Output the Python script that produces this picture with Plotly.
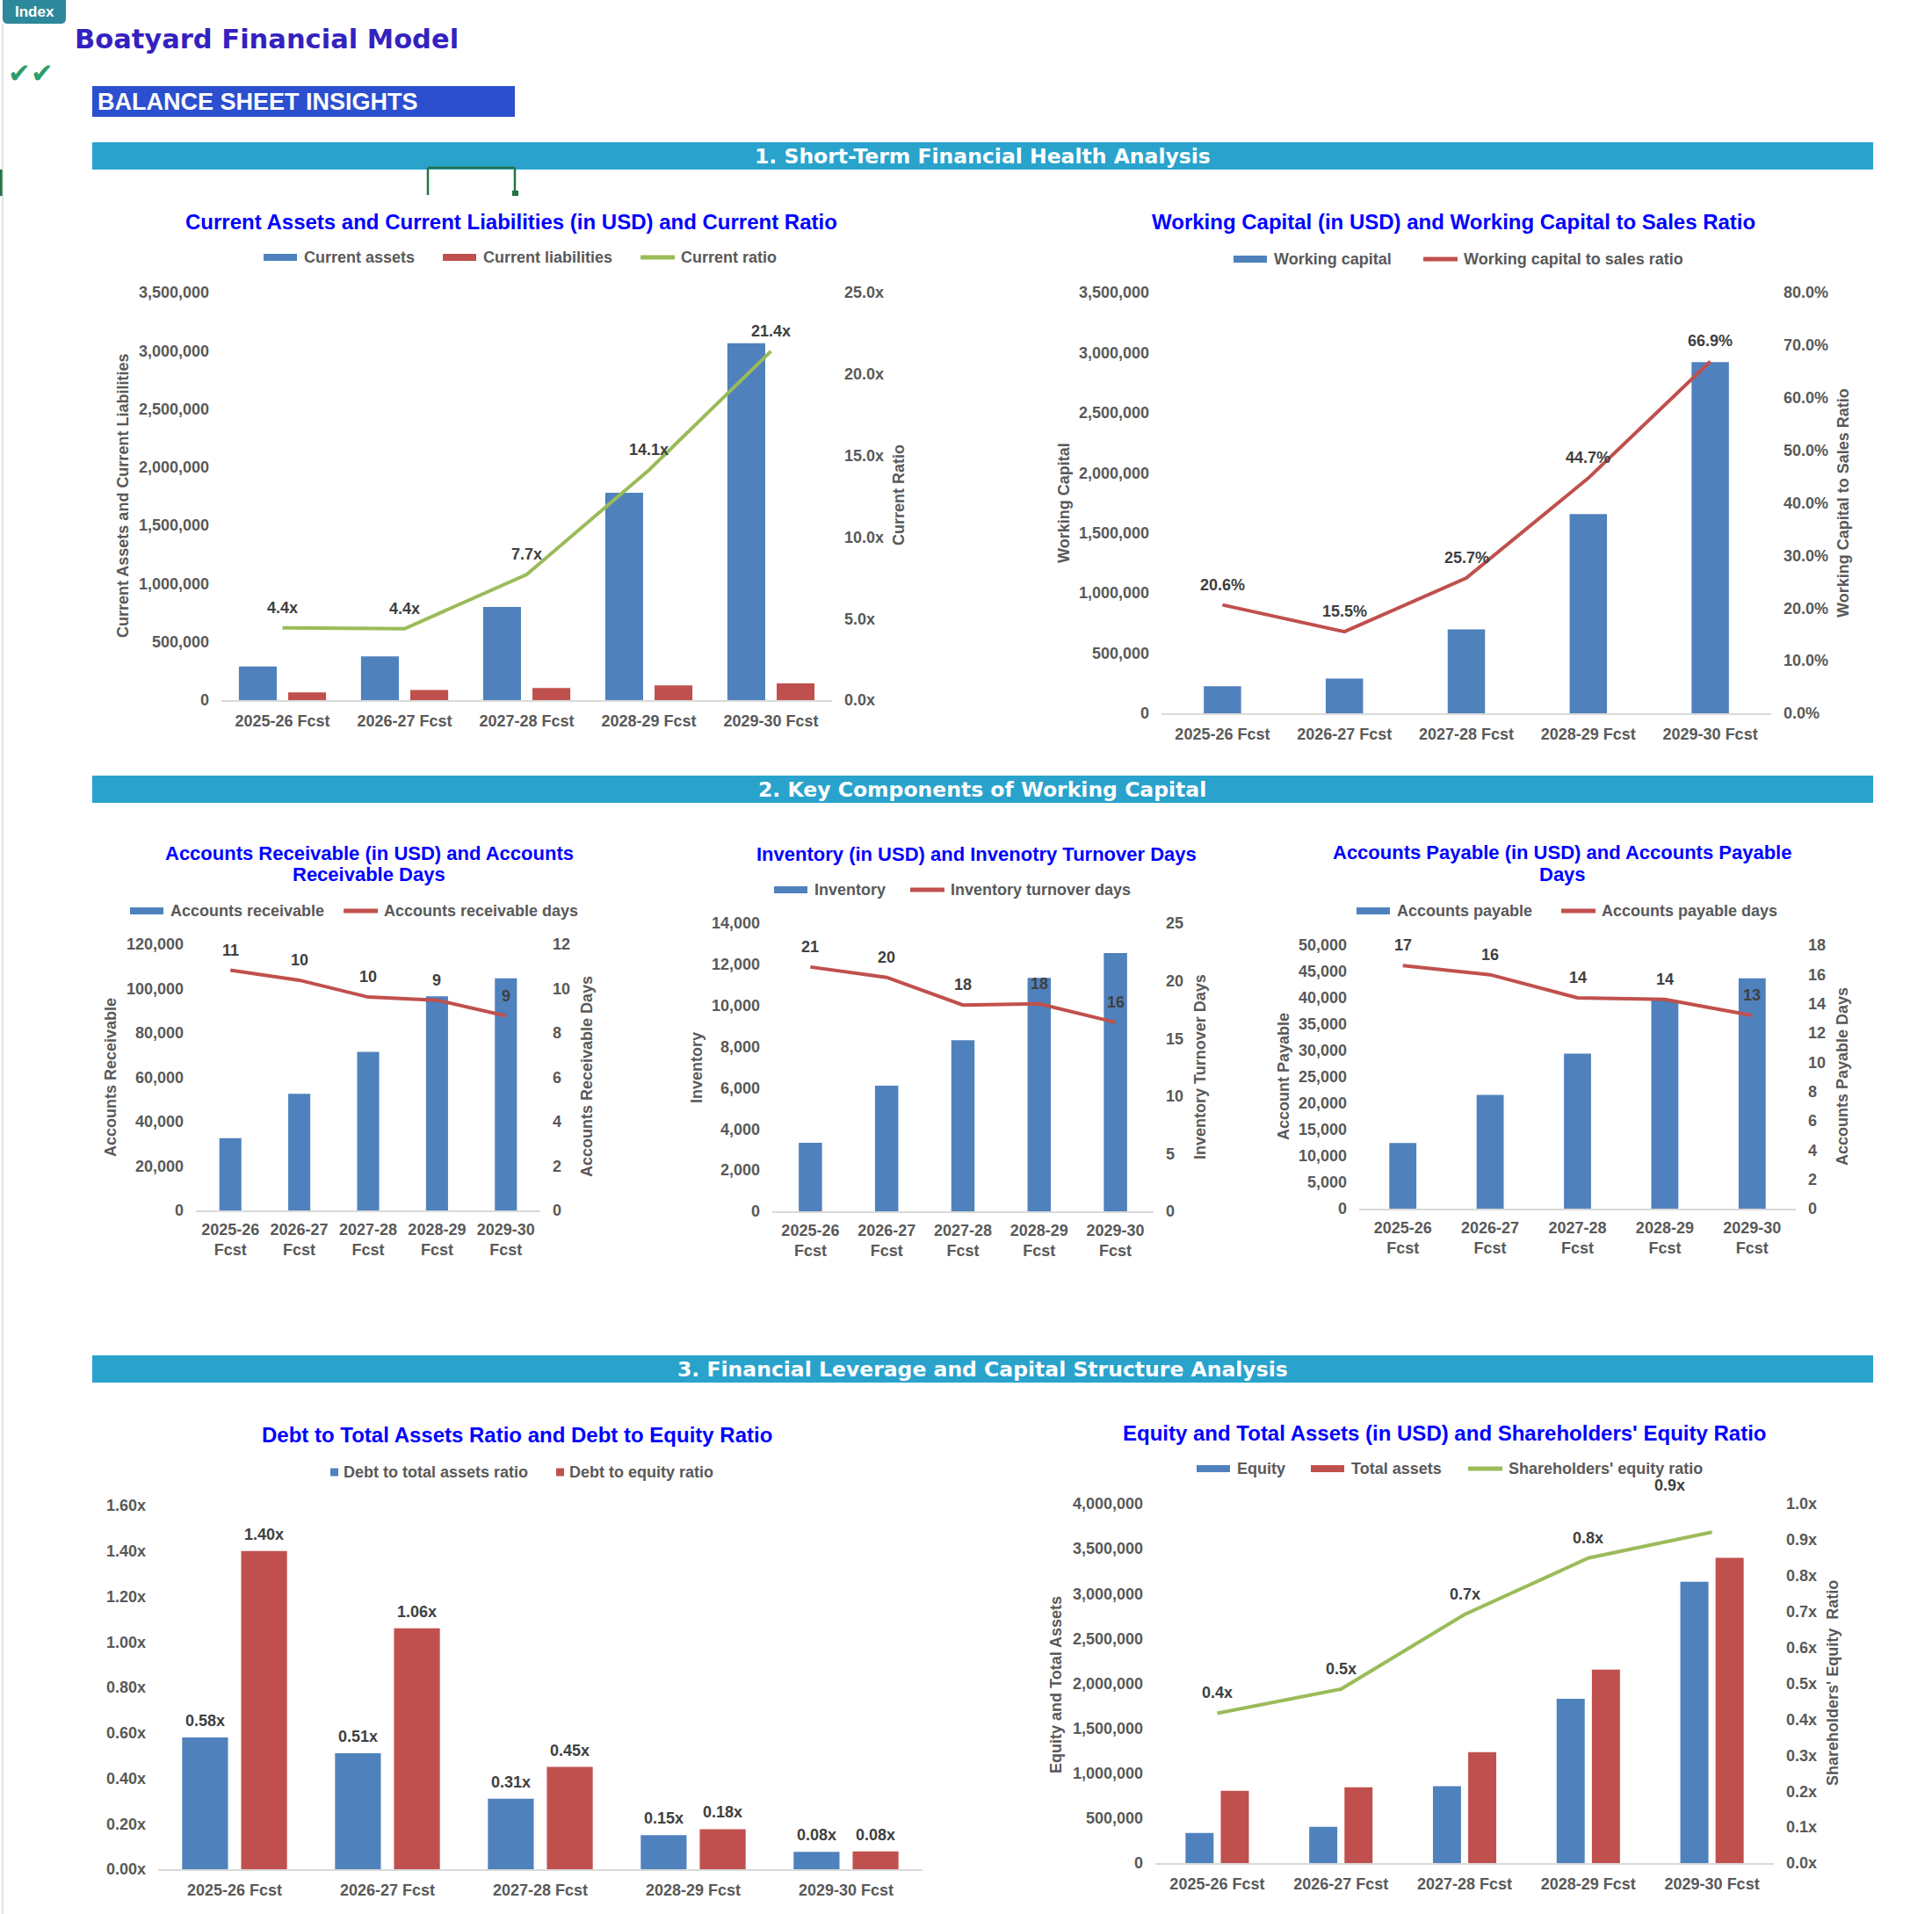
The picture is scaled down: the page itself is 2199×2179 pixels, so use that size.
import plotly.graph_objects as go

W, H = 2199, 2179
FONT = "Arial, 'Liberation Sans', sans-serif"
WIDE = "'DejaVu Sans', Verdana, sans-serif"
GREY = "#595959"
LABEL = "#404040"
BLUE = "#4F81BD"
RED = "#C0504D"
GREEN = "#9BBB59"
TITLE_BLUE = "#0000FF"
SECTION = "#29A3CC"

# ---------------- data ----------------
years = ["2025-26 Fcst", "2026-27 Fcst", "2027-28 Fcst", "2028-29 Fcst", "2029-30 Fcst"]
years_two_line = ["2025-26<br>Fcst", "2026-27<br>Fcst", "2027-28<br>Fcst", "2028-29<br>Fcst", "2029-30<br>Fcst"]

current_assets = [289000, 375000, 800000, 1781000, 3064000]
current_liabilities = [65500, 86000, 103000, 126000, 143000]
current_ratio = [4.43, 4.38, 7.7, 14.1, 21.4]

working_capital = [224000, 289000, 697000, 1656000, 2921000]
wc_to_sales_ratio = [0.206, 0.155, 0.257, 0.447, 0.669]

accounts_receivable = [32600, 52600, 71500, 96500, 104700]
accounts_receivable_days = [10.83, 10.38, 9.62, 9.48, 8.77]

inventory = [3330, 6100, 8310, 11340, 12550]
inventory_turnover_days = [21.2, 20.3, 17.9, 18.0, 16.4]

accounts_payable = [12440, 21600, 29400, 39550, 43700]
accounts_payable_days = [16.6, 15.98, 14.4, 14.3, 13.2]

debt_to_total_assets = [0.58, 0.51, 0.31, 0.15, 0.076]
debt_to_equity = [1.40, 1.06, 0.45, 0.176, 0.078]

equity = [335000, 404000, 855000, 1829000, 3131000]
total_assets = [804000, 844000, 1234000, 2153000, 3398000]
shareholders_equity_ratio = [0.417, 0.484, 0.692, 0.849, 0.921]

# ---------------- helpers ----------------
fig = go.Figure()
shapes = []
annotations = []
layout = {}


def X(p):
    return p / W


def Y(p):
    return 1 - p / H


def xref(n):
    return "x" if n == 1 else f"x{n}"


def yref(n):
    return "y" if n == 1 else f"y{n}"


def xkey(n):
    return "xaxis" if n == 1 else f"xaxis{n}"


def ykey(n):
    return "yaxis" if n == 1 else f"yaxis{n}"


AB = {" ": 278, "a": 556, "b": 611, "c": 556, "d": 611, "e": 556, "f": 333, "g": 611, "h": 611,
      "i": 278, "j": 278, "k": 556, "l": 278, "m": 889, "n": 611, "o": 611, "p": 611, "q": 611,
      "r": 389, "s": 556, "t": 333, "u": 611, "v": 556, "w": 778, "x": 556, "y": 556, "z": 500,
      "A": 722, "B": 722, "C": 722, "D": 722, "E": 667, "F": 611, "G": 778, "H": 722, "I": 278,
      "J": 556, "K": 722, "L": 611, "M": 833, "N": 722, "O": 778, "P": 667, "Q": 778, "R": 722,
      "S": 667, "T": 611, "U": 722, "V": 667, "W": 944, "X": 667, "Y": 667, "Z": 611, "'": 238}


def text_w(s, size):
    return sum(AB.get(c, 556) for c in s) * size / 1000


def rect(x0, y0, x1, y1, color):
    shapes.append(dict(type="rect", xref="paper", yref="paper", x0=X(x0), x1=X(x1), y0=Y(y1), y1=Y(y0),
                       fillcolor=color, line=dict(width=0), layer="below"))


def seg(x0, y0, x1, y1, color, width):
    shapes.append(dict(type="line", xref="paper", yref="paper", x0=X(x0), x1=X(x1), y0=Y(y0), y1=Y(y1),
                       line=dict(color=color, width=width)))


def text(x, y, s, size, color, family=FONT, xanchor="center", angle=0, bold=True):
    annotations.append(dict(x=X(x), y=Y(y), xref="paper", yref="paper", text=s, showarrow=False,
                            xanchor=xanchor, yanchor="middle", textangle=angle,
                            font=dict(family=family, size=size, color=color,
                                      weight="bold" if bold else "normal")))


tickfont = dict(family=FONT, size=18, color=GREY, weight="bold")
COMMON = dict(showgrid=False, zeroline=False, ticks="", tickfont=tickfont, automargin=False, fixedrange=True)


def setup(n, x0, x1, ytop, ybot, left, rn=None, right=None, two_line=False):
    xa = dict(domain=[X(x0), X(x1)], anchor=yref(n), type="category", range=[-0.5, 4.5],
              showline=True, linecolor="#D9D9D9", linewidth=2,
              ticklabelstandoff=4 if two_line else 6, **COMMON)
    if two_line:
        xa.update(tickmode="array", tickvals=years, ticktext=years_two_line)
    layout[xkey(n)] = xa
    ya = dict(domain=[Y(ybot), Y(ytop)], anchor=xref(n), showline=False, ticklabelstandoff=13,
              tickmode="linear", tick0=0, **COMMON)
    ya.update(left)
    layout[ykey(n)] = ya
    if right is not None:
        yb = dict(overlaying=yref(n), side="right", anchor=xref(n), showline=False, ticklabelstandoff=13,
                  tickmode="linear", tick0=0, **COMMON)
        yb.update(right)
        layout[ykey(rn)] = yb


def bars(n, values, color, width, offset):
    fig.add_trace(go.Bar(x=years, y=values, xaxis=xref(n), yaxis=yref(n), marker=dict(color=color, line=dict(width=0)),
                         width=width, offset=offset, showlegend=False, hoverinfo="skip"))


def line(n, yn, values, color):
    fig.add_trace(go.Scatter(x=years, y=values, xaxis=xref(n), yaxis=yref(yn), mode="lines",
                             line=dict(color=color, width=4), showlegend=False, hoverinfo="skip"))


def labels(n, yn, values, fmt, shifts, xoff=0.0, xshifts=None):
    for i, v in enumerate(values):
        annotations.append(dict(x=i + xoff, y=v, xref=xref(n), yref=yref(yn), text=fmt(v), showarrow=False,
                                yshift=shifts[i] if isinstance(shifts, list) else shifts,
                                xshift=xshifts[i] if xshifts else 0,
                                font=dict(family=FONT, size=18, color=LABEL, weight="bold")))


def legend(x, y, items, spacing):
    for kind, color, label in items:
        if kind == "bar":
            rect(x, y - 4, x + 38, y + 4, color)
            x += 38 + 6
        elif kind == "line":
            seg(x, y, x + 39, y, color, 5)
            x += 39 + 5
        else:
            rect(x, y - 4.5, x + 9, y + 4.5, color)
            x += 9 + 4
        text(x, y, label, 18, GREY, xanchor="left")
        x += text_w(label, 18) + spacing


def chart_title(x, y, s, size=24):
    text(x, y, s, size, TITLE_BLUE)


def axis_title(x, y, s):
    text(x, y, s, 18, GREY, angle=-90)


# ---------------- header ----------------
ix0, ix1, iy1, r = 3, 75, 27, 6
shapes.append(dict(type="path", xref="paper", yref="paper",
                   path=(f"M {X(ix0)},{Y(0)} L {X(ix1)},{Y(0)} L {X(ix1)},{Y(iy1 - r)} "
                         f"Q {X(ix1)},{Y(iy1)} {X(ix1 - r)},{Y(iy1)} L {X(ix0 + r)},{Y(iy1)} "
                         f"Q {X(ix0)},{Y(iy1)} {X(ix0)},{Y(iy1 - r)} Z"),
                   fillcolor="#2E889B", line=dict(width=0)))
text(39, 14, "Index", 17, "white")
seg(3, 27, 3, H, "#C8C8C8", 1)
rect(0, 193, 3, 223, "#217346")

text(83, 44, "Boatyard Financial Model", 30.5, "#3322C0", family=WIDE, xanchor="left")
text(7, 83, "✔✔", 31, "#2E9E6A", family=WIDE, xanchor="left", bold=False)

rect(105, 98, 586, 133, "#2B4FCF")
text(109, 116, "BALANCE SHEET INSIGHTS", 27, "white", xanchor="left")

# cell selection marker
seg(487, 191, 586, 191, "#217346", 2.5)
seg(487, 191, 487, 222, "#217346", 2.5)
seg(586, 191, 586, 219, "#217346", 2.5)
rect(583, 217, 590, 223, "#217346")

sections = [(162, 193, "1. Short-Term Financial Health Analysis"),
            (883, 914, "2. Key Components of Working Capital"),
            (1543, 1574, "3. Financial Leverage and Capital Structure Analysis")]
for y0, y1, s in sections:
    rect(105, y0, 2132, y1, SECTION)
    text(1118, (y0 + y1) / 2, s, 23.5, "white", family=WIDE)

# ---------------- chart 1 ----------------
setup(1, 252, 947, 333, 797, dict(range=[0, 3500000], dtick=500000, tickformat=","),
      8, dict(range=[0, 25], dtick=5, tickformat=".1f", ticksuffix="x"))
bars(1, current_assets, BLUE, 0.31, -0.357)
bars(1, current_liabilities, RED, 0.31, 0.047)
line(1, 8, current_ratio, GREEN)
labels(1, 8, current_ratio, lambda v: f"{v:.1f}x", 23)
chart_title(582, 252, "Current Assets and Current Liabilities (in USD) and Current Ratio")
legend(300, 293, [("bar", BLUE, "Current assets"), ("bar", RED, "Current liabilities"),
                  ("line", GREEN, "Current ratio")], 34)
axis_title(140, 565, "Current Assets and Current Liabilities")
axis_title(1023, 564, "Current Ratio")

# ---------------- chart 2 ----------------
setup(2, 1322, 2016, 333, 812, dict(range=[0, 3500000], dtick=500000, tickformat=","),
      9, dict(range=[0, 0.8], dtick=0.1, tickformat=".1%"))
bars(2, working_capital, BLUE, 0.306, -0.153)
line(2, 9, wc_to_sales_ratio, RED)
labels(2, 9, wc_to_sales_ratio, lambda v: f"{v * 100:.1f}%", 23)
chart_title(1654, 252, "Working Capital (in USD) and Working Capital to Sales Ratio")
legend(1404, 295, [("bar", BLUE, "Working capital"), ("line", RED, "Working capital to sales ratio")], 38)
axis_title(1211, 573, "Working Capital")
axis_title(2098, 573, "Working Capital to Sales Ratio")

# ---------------- chart 3 ----------------
setup(3, 223, 615, 1075, 1378, dict(range=[0, 120000], dtick=20000, tickformat=","),
      10, dict(range=[0, 12], dtick=2, tickformat="d"), two_line=True)
bars(3, accounts_receivable, BLUE, 0.32, -0.16)
line(3, 10, accounts_receivable_days, RED)
labels(3, 10, accounts_receivable_days, lambda v: f"{v:.0f}", 23)
chart_title(420, 971, "Accounts Receivable (in USD) and Accounts", 22)
chart_title(420, 995, "Receivable Days", 22)
legend(148, 1037, [("bar", BLUE, "Accounts receivable"), ("line", RED, "Accounts receivable days")], 24)
axis_title(126, 1227, "Accounts Receivable")
axis_title(668, 1226, "Accounts Receivable Days")

# ---------------- chart 4 ----------------
setup(4, 879, 1313, 1051, 1379, dict(range=[0, 14000], dtick=2000, tickformat=","),
      11, dict(range=[0, 25], dtick=5, tickformat="d"), two_line=True)
bars(4, inventory, BLUE, 0.305, -0.1525)
line(4, 11, inventory_turnover_days, RED)
labels(4, 11, inventory_turnover_days, lambda v: f"{v:.0f}", 23)
chart_title(1111, 972, "Inventory (in USD) and Invenotry Turnover Days", 22)
legend(881, 1013, [("bar", BLUE, "Inventory"), ("line", RED, "Inventory turnover days")], 30)
axis_title(793, 1216, "Inventory")
axis_title(1366, 1215, "Inventory Turnover Days")

# ---------------- chart 5 ----------------
setup(5, 1547, 2044, 1076, 1376, dict(range=[0, 50000], dtick=5000, tickformat=","),
      12, dict(range=[0, 18], dtick=2, tickformat="d"), two_line=True)
bars(5, accounts_payable, BLUE, 0.31, -0.155)
line(5, 12, accounts_payable_days, RED)
labels(5, 12, accounts_payable_days, lambda v: f"{v:.0f}", 23)
chart_title(1778, 970, "Accounts Payable (in USD) and Accounts Payable", 22)
chart_title(1778, 995, "Days", 22)
legend(1544, 1037, [("bar", BLUE, "Accounts payable"), ("line", RED, "Accounts payable days")], 35)
axis_title(1461, 1226, "Account Payable")
axis_title(2097, 1226, "Accounts Payable Days")

# ---------------- chart 6 ----------------
setup(6, 180, 1050, 1714, 2128, dict(range=[0, 1.6], dtick=0.2, tickformat=".2f", ticksuffix="x"))
bw6, off_b6, off_r6 = 0.30, -0.343, 0.043
bars(6, debt_to_total_assets, BLUE, bw6, off_b6)
bars(6, debt_to_equity, RED, bw6, off_r6)
labels(6, 6, debt_to_total_assets, lambda v: f"{v:.2f}x", 19, off_b6 + bw6 / 2)
labels(6, 6, debt_to_equity, lambda v: f"{v:.2f}x", 19, off_r6 + bw6 / 2)
chart_title(588, 1633, "Debt to Total Assets Ratio and Debt to Equity Ratio")
legend(376, 1676, [("square", BLUE, "Debt to total assets ratio"), ("square", RED, "Debt to equity ratio")], 34)

# ---------------- chart 7 ----------------
setup(7, 1315, 2019, 1712, 2121, dict(range=[0, 4000000], dtick=500000, tickformat=","),
      13, dict(range=[0, 1.0], dtick=0.1, tickformat=".1f", ticksuffix="x"))
bars(7, equity, BLUE, 0.227, -0.256)
bars(7, total_assets, RED, 0.227, 0.029)
line(7, 13, shareholders_equity_ratio, GREEN)
labels(7, 13, shareholders_equity_ratio, lambda v: f"{v:.1f}x", [23, 23, 23, 23, 53],
       xshifts=[0, 0, 0, 0, -48])
chart_title(1644, 1631, "Equity and Total Assets (in USD) and Shareholders' Equity Ratio")
legend(1362, 1672, [("bar", BLUE, "Equity"), ("bar", RED, "Total assets"),
                    ("line", GREEN, "Shareholders' equity ratio")], 31)
axis_title(1202, 1918, "Equity and Total Assets")
axis_title(2086, 1916, "Shareholders' Equity\u00a0 Ratio")

fig.update_layout(width=W, height=H, margin=dict(l=0, r=0, t=0, b=0, pad=0), autosize=False,
                  paper_bgcolor="white", plot_bgcolor="rgba(0,0,0,0)", barmode="group",
                  showlegend=False, shapes=shapes, annotations=annotations, **layout)

fig.write_html("out.html", config={"displayModeBar": False},
               post_script="document.body.style.margin='0px';")
